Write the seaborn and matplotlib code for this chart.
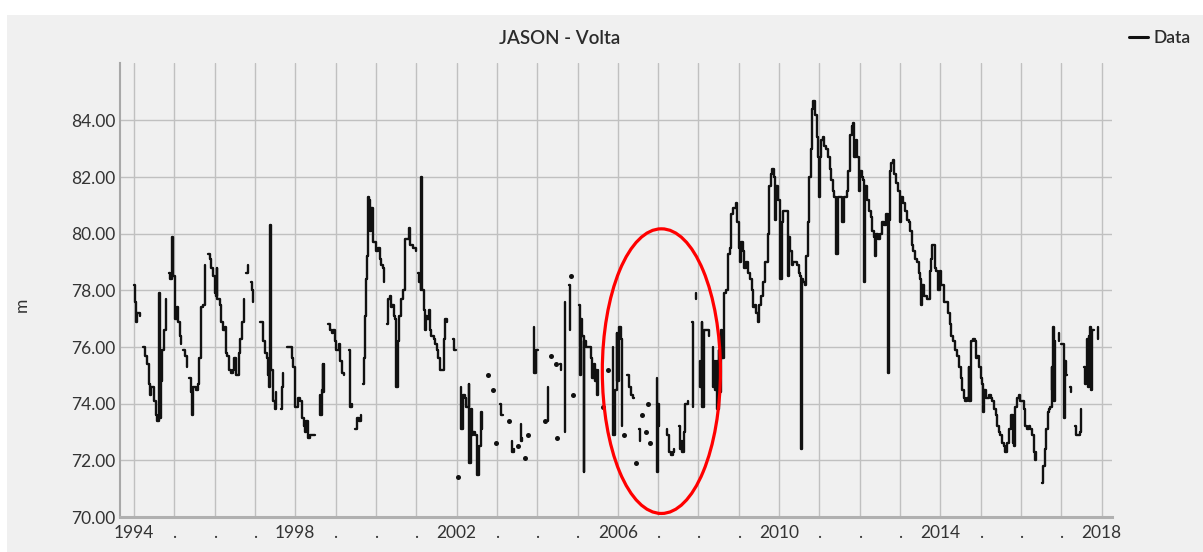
import numpy as np
import pandas as pd
import matplotlib
matplotlib.use("Agg")
import matplotlib.pyplot as plt
import seaborn as sns
from matplotlib.patches import Ellipse, Rectangle
from matplotlib.lines import Line2D

N = np.nan

# ---- data (decimal year, water level in m); NaN marks a gap ----
dates = [
    1994.00, 1994.02, 1994.05, 1994.08, 1994.15, N,
    1994.23, 1994.27, 1994.32, 1994.37, 1994.40, 1994.42, 1994.49, 1994.55, 1994.58, 1994.62, 1994.625, 1994.635, 1994.67, 1994.70, 1994.74, 1994.79, N,
    1994.88, 1994.89, 1994.94, 1994.95, 1994.96, 1995.02, 1995.06, 1995.10, 1995.14, 1995.17, N,
    1995.21, 1995.26, 1995.31, N,
    1995.37, 1995.41, 1995.45, 1995.47, 1995.55, 1995.59, 1995.61, 1995.65, 1995.67, 1995.71, 1995.76, N,
    1995.83, 1995.88, 1995.92, 1995.96, 1996.00, 1996.04, 1996.06, 1996.07, 1996.13, 1996.16, 1996.20, 1996.25,
    1996.27, 1996.31, 1996.35, 1996.40, 1996.45, 1996.49, 1996.52, 1996.56, 1996.60, 1996.64, 1996.68, 1996.72, N,
    1996.78, 1996.82, N,
    1996.90, 1996.93, 1996.96, N,
    1997.12, 1997.19, 1997.25, 1997.29, 1997.32, 1997.36, 1997.375, 1997.39, 1997.45, 1997.49, 1997.53, N,
    1997.64, 1997.67, 1997.70, N,
    1997.79, 1997.89, 1997.91, 1997.95, 1997.99, 1998.00, 1998.06, 1998.12, 1998.17, 1998.21, 1998.23, 1998.27, 1998.32, 1998.36, 1998.43, 1998.49, N,
    1998.61, 1998.62, 1998.66, 1998.68, 1998.70, 1998.72, N,
    1998.82, 1998.86, 1998.90, 1998.94, 1998.98, 1999.02, 1999.09, 1999.12, 1999.15, 1999.21, N,
    1999.34, 1999.35, 1999.40, N,
    1999.48, 1999.52, 1999.58, 1999.63, N,
    1999.69, 1999.71, 1999.73, 1999.76, 1999.78, 1999.80, 1999.83, 1999.85, 1999.88, 1999.92, 1999.94, 1999.98, 2000.01, 2000.05, 2000.09, 2000.13, 2000.18, 2000.21, N,
    2000.27, 2000.29, 2000.35, 2000.37, 2000.41, 2000.45, 2000.48, 2000.51, 2000.56, 2000.58, 2000.61, 2000.67, 2000.71, 2000.73, 2000.79, 2000.83, 2000.85, 2000.91, 2000.99, N,
    2001.05, 2001.07, 2001.11, 2001.13, 2001.15, 2001.19, 2001.21, 2001.24, 2001.27, 2001.31, 2001.33, 2001.37, 2001.43, 2001.47, 2001.51, 2001.55, 2001.60, 2001.64, 2001.68, 2001.72, 2001.76, N,
    2001.90, 2001.94, 2001.98, N,
    2002.04, N,
    2002.11, 2002.12, 2002.16, 2002.20, 2002.24, 2002.30, 2002.31, 2002.36, 2002.38, 2002.42, 2002.46, 2002.50, 2002.51, 2002.55, 2002.60, 2002.63, N,
    2002.79, N, 2002.90, N, 2002.98, N,
    2003.08, 2003.10, 2003.14, N,
    2003.31, N,
    2003.37, 2003.38, 2003.42, N,
    2003.52, N,
    2003.59, 2003.60, 2003.63, N,
    2003.70, N, 2003.76, N,
    2003.92, 2003.93, 2003.97, 2004.03, N,
    2004.19, N,
    2004.26, 2004.27, N,
    2004.34, N, 2004.46, N, 2004.50, N,
    2004.57, 2004.60, N,
    2004.69, 2004.70, N,
    2004.80, 2004.81, N,
    2004.85, N, 2004.90, N,
    2005.04, 2005.05, 2005.09, 2005.10, 2005.14, 2005.15, 2005.16, 2005.22, 2005.27, 2005.33, 2005.35, 2005.40, 2005.43, 2005.47, 2005.49, 2005.52, N,
    2005.64, N, 2005.76, N,
    2005.87, 2005.88, 2005.92, 2005.97, 2005.98, 2006.03, 2006.08, 2006.10, N,
    2006.15, N,
    2006.22, 2006.28, 2006.33, 2006.38, 2006.41, N,
    2006.45, N,
    2006.53, 2006.54, N,
    2006.61, N, 2006.69, N, 2006.74, N, 2006.80, N,
    2006.96, 2006.97, 2007.00, 2007.03, N,
    2007.21, 2007.22, 2007.27, 2007.28, 2007.32, 2007.36, 2007.39, N,
    2007.52, 2007.53, 2007.58, 2007.60, 2007.64, 2007.67, 2007.73, N,
    2007.85, 2007.86, N,
    2007.93, 2007.94, N,
    2008.03, 2008.04, 2008.08, 2008.09, 2008.13, 2008.17, 2008.25, N,
    2008.35, 2008.36, 2008.40, 2008.41, 2008.45, 2008.46, 2008.50, 2008.51, 2008.57, 2008.58, 2008.63, 2008.64, 2008.68, 2008.72, 2008.74, 2008.78, 2008.81, 2008.85, 2008.92, 2008.95, 2009.00,
    2009.02, 2009.06, 2009.10, 2009.12, 2009.17, 2009.22, 2009.28, 2009.32, 2009.35, 2009.39, 2009.43, 2009.47, 2009.51, 2009.55, 2009.61, 2009.66, 2009.72, 2009.75, 2009.76, 2009.79, 2009.83, 2009.87, 2009.89, 2009.93, 2009.97,
    2010.02, 2010.03, 2010.06, 2010.10, 2010.17, 2010.20, 2010.21, 2010.25, 2010.28, 2010.31, 2010.35, 2010.39, 2010.45, 2010.50, 2010.53, 2010.55, 2010.57, 2010.59, 2010.63, 2010.67, 2010.71, 2010.75, 2010.78, 2010.81, 2010.85, 2010.90, 2010.93, 2010.96, 2010.98,
    2011.02, 2011.04, 2011.08, 2011.12, 2011.16, 2011.20, 2011.25, 2011.29, 2011.33, 2011.37, 2011.41, 2011.45, 2011.53, 2011.57, 2011.60, 2011.64, 2011.68, 2011.72, 2011.76, 2011.80, 2011.84, 2011.86, 2011.90, 2011.94, 2011.97,
    2012.00, 2012.05, 2012.09, 2012.11, 2012.13, 2012.15, 2012.19, 2012.23, 2012.27, 2012.31, 2012.35, 2012.38, 2012.41, 2012.45, 2012.50, 2012.56, 2012.60, 2012.64, 2012.68, 2012.70, 2012.72, 2012.74, 2012.78, 2012.82, 2012.86, 2012.90, 2012.95,
    2013.00, 2013.02, 2013.07, 2013.12, 2013.17, 2013.21, 2013.25, 2013.29, 2013.33, 2013.37, 2013.41, 2013.46, 2013.50, 2013.52, 2013.55, 2013.60, 2013.65, 2013.68, 2013.73, 2013.77, 2013.80, 2013.83, 2013.86, 2013.90, 2013.93, 2013.98,
    2014.02, 2014.07, 2014.10, 2014.15, 2014.19, 2014.23, 2014.27, 2014.31, 2014.37, 2014.41, 2014.46, 2014.50, 2014.54, 2014.58, 2014.62, 2014.66, 2014.70, 2014.71, 2014.75, 2014.77, 2014.81, 2014.85, 2014.88, 2014.92, 2014.96,
    2015.00, 2015.04, 2015.05, 2015.08, 2015.12, 2015.16, 2015.20, 2015.25, 2015.29, 2015.33, 2015.37, 2015.41, 2015.45, 2015.49, 2015.53, 2015.57, 2015.61, 2015.65, 2015.70, 2015.74, 2015.78, 2015.79, 2015.82, 2015.83, 2015.86, 2015.90, 2015.94, 2015.98,
    2016.02, 2016.07, 2016.11, 2016.15, 2016.19, 2016.23, 2016.27, 2016.31, 2016.33, 2016.34, 2016.37, N,
    2016.51, 2016.55, 2016.59, 2016.63, 2016.66, 2016.70, 2016.73, 2016.76, 2016.78, 2016.80, 2016.81, 2016.83, N,
    2016.93, 2016.94, N,
    2017.00, 2017.06, 2017.07, 2017.09, 2017.11, 2017.15, N,
    2017.22, 2017.24, N,
    2017.35, 2017.37, 2017.41, 2017.45, 2017.49, N,
    2017.57, 2017.58, 2017.61, 2017.64, 2017.65, 2017.69, 2017.72, 2017.73, 2017.77, 2017.81, N,
    2017.90, 2017.92,
]

level_m = [
    78.2, 77.6, 76.9, 77.2, 77.1, N,
    76.0, 75.7, 75.4, 74.7, 74.3, 74.6, 74.1, 73.6, 73.4, 73.7, 77.9, 73.5, 74.8, 75.9, 76.6, 77.7, N,
    78.6, 78.4, 78.6, 79.9, 78.5, 77.0, 77.4, 76.9, 76.4, 76.1, N,
    75.9, 75.7, 75.3, N,
    74.9, 74.4, 73.6, 74.6, 74.5, 74.7, 75.6, 76.8, 77.4, 77.5, 78.9, N,
    79.3, 79.1, 78.8, 78.5, 77.9, 77.8, 78.8, 77.7, 77.5, 76.9, 76.6, 76.7,
    75.8, 75.7, 75.2, 75.1, 75.2, 75.6, 75.0, 75.0, 75.8, 76.3, 76.9, 77.7, N,
    78.6, 78.9, N,
    78.3, 78.0, 77.6, N,
    76.9, 76.2, 75.8, 75.6, 75.0, 74.6, 80.3, 75.2, 74.1, 73.8, 74.4, N,
    73.8, 74.6, 75.1, N,
    76.0, 76.0, 75.6, 75.3, 75.1, 73.9, 74.2, 74.1, 73.5, 73.2, 73.0, 73.4, 72.8, 72.9, 72.9, 72.9, N,
    74.3, 73.6, 74.5, 75.4, 74.4, 75.4, N,
    76.8, 76.6, 76.5, 76.6, 76.2, 75.9, 76.1, 75.5, 75.1, 75.0, N,
    75.9, 73.9, 74.0, N,
    73.1, 73.5, 73.4, 73.6, N,
    74.7, 75.6, 77.1, 78.4, 79.2, 81.3, 81.2, 80.1, 80.9, 80.6, 79.7, 79.7, 79.4, 79.5, 79.1, 78.9, 78.8, 78.3, N,
    76.8, 77.7, 77.8, 77.4, 77.5, 77.1, 77.0, 74.6, 76.2, 77.1, 77.7, 78.0, 79.2, 79.8, 79.8, 80.2, 79.6, 79.5, 79.4, N,
    78.6, 78.3, 78.0, 82.0, 78.0, 77.3, 76.6, 77.1, 77.0, 77.3, 76.6, 76.4, 76.3, 76.1, 75.9, 75.6, 75.2, 75.2, 76.3, 77.0, 76.9, N,
    76.3, 75.9, 75.9, N,
    71.4, N,
    74.6, 73.1, 74.3, 74.2, 73.9, 74.7, 71.9, 73.8, 72.9, 73.0, 72.9, 72.9, 71.5, 72.5, 73.7, 73.1, N,
    75.0, N, 74.5, N, 72.6, N,
    74.0, 73.6, 73.6, N,
    73.4, N,
    72.7, 72.3, 72.4, N,
    72.5, N,
    73.3, 72.7, 72.8, N,
    72.1, N, 72.9, N,
    76.7, 75.1, 75.9, 75.9, N,
    73.4, N,
    74.6, 73.4, N,
    75.7, N, 75.4, N, 72.8, N,
    75.4, 75.2, N,
    77.6, 73.0, N,
    78.2, 76.6, N,
    78.5, N, 74.3, N,
    77.5, 75.0, 77.0, 76.4, 76.4, 71.6, 76.2, 76.0, 76.0, 75.6, 74.9, 75.4, 74.8, 75.2, 74.3, 75.2, N,
    73.9, N, 75.2, N,
    76.0, 72.9, 74.5, 76.5, 74.8, 76.7, 76.3, 73.2, N,
    72.9, N,
    75.0, 74.6, 74.3, 74.2, 74.2, N,
    71.9, N,
    73.1, 72.7, N,
    73.6, N, 73.0, N, 74.0, N, 72.6, N,
    74.9, 71.6, 74.0, 73.2, N,
    73.1, 72.9, 72.8, 72.3, 72.2, 72.3, 72.4, N,
    73.2, 72.4, 72.7, 72.3, 73.0, 74.0, 74.1, N,
    76.9, 73.9, N,
    77.9, 77.7, N,
    75.5, 74.6, 76.9, 73.9, 76.6, 76.6, 76.4, N,
    76.0, 74.6, 75.5, 74.5, 75.5, 73.8, 75.9, 74.4, 76.6, 75.6, 77.4, 77.9, 78.0, 78.1, 79.3, 79.5, 80.7, 80.9, 81.1, 80.4, 79.5,
    79.0, 79.7, 79.4, 78.8, 79.0, 78.6, 78.4, 78.0, 77.4, 77.5, 77.2, 76.9, 77.5, 77.8, 78.3, 79.0, 80.0, 80.9, 81.7, 82.1, 82.3, 82.0, 80.5, 81.7, 81.2,
    80.5, 78.4, 80.4, 80.8, 80.8, 80.8, 78.5, 79.9, 79.4, 78.9, 79.0, 79.0, 78.9, 78.6, 78.5, 72.4, 78.4, 78.3, 78.2, 79.2, 80.4, 82.0, 83.0, 84.4, 84.7, 84.2, 83.4, 82.7, 81.3,
    82.7, 83.3, 83.4, 83.1, 83.0, 82.7, 82.3, 81.9, 81.5, 81.3, 79.3, 81.3, 81.3, 80.4, 81.3, 81.3, 81.5, 82.2, 83.5, 83.8, 83.9, 82.7, 83.3, 82.7, 81.5,
    82.2, 82.0, 81.9, 78.3, 81.7, 81.7, 81.2, 80.8, 80.6, 80.1, 79.9, 79.2, 80.0, 79.8, 80.0, 80.4, 80.3, 80.7, 80.7, 75.1, 80.5, 82.2, 82.5, 82.6, 82.1, 81.8, 81.5,
    80.4, 81.3, 81.1, 80.8, 80.5, 80.4, 80.1, 79.6, 79.4, 79.1, 79.0, 78.6, 78.4, 77.5, 78.2, 77.8, 77.8, 77.7, 78.7, 79.1, 79.6, 79.6, 78.8, 78.7, 78.0, 78.7,
    78.2, 78.2, 77.6, 77.6, 77.2, 76.8, 76.4, 76.2, 75.9, 75.7, 75.3, 74.9, 74.5, 74.2, 74.1, 74.2, 75.3, 74.1, 74.1, 76.2, 76.3, 76.2, 75.6, 75.7, 75.3,
    74.9, 74.7, 73.7, 74.5, 74.2, 74.2, 74.3, 74.2, 74.1, 73.8, 73.6, 73.2, 73.0, 72.9, 72.6, 72.5, 72.3, 72.6, 73.1, 73.6, 73.6, 72.6, 73.5, 72.5, 73.9, 74.2, 74.3, 74.1,
    74.1, 73.8, 73.2, 73.1, 73.2, 73.1, 72.9, 72.6, 72.3, 72.0, 72.3, N,
    71.2, 71.8, 72.4, 73.1, 73.7, 73.8, 73.9, 75.3, 74.5, 76.7, 74.1, 76.2, N,
    76.5, 76.2, N,
    76.1, 75.8, 73.5, 75.5, 75.0, 75.0, N,
    74.6, 74.4, N,
    73.2, 72.9, 72.9, 73.0, 73.8, N,
    75.3, 74.7, 75.3, 76.3, 74.6, 76.4, 76.7, 74.5, 76.6, 76.6, N,
    76.7, 76.3,
]

year_ticks = list(range(1994, 2019))
year_labels = [str(y) if (y - 1994) % 4 == 0 else "." for y in year_ticks]
level_ticks = [70, 72, 74, 76, 78, 80, 82, 84]
title_text = "JASON - Volta"
y_label = "m"
legend_label = "Data"

# highlighted region (red ellipse): centre and size in data units
ellipse_center = (2007.08, 75.15)
ellipse_size = (2.93, 10.05)

assert len(dates) == len(level_m)

df = pd.DataFrame({"date": dates, "level": level_m})
df["seg"] = df["level"].isna().cumsum()
df = df.dropna().reset_index(drop=True)
n_in_seg = df.groupby("seg")["level"].transform("size")
lines_df = df[n_in_seg > 1]
dots_df = df[n_in_seg == 1]

sns.set_theme(style="white")
plt.rcParams["font.family"] = ["Lato", "DejaVu Sans"]

W, H = 1203, 552
fig = plt.figure(figsize=(W / 100, H / 100), dpi=100, facecolor="white")
fig.patches.append(Rectangle((7 / W, 0), 1 - 7 / W, 1 - 15 / H, transform=fig.transFigure,
                             facecolor="#f0f0f0", edgecolor="none", zorder=-10))

ax = fig.add_axes([120 / W, 35 / H, 992 / W, 454 / H])
ax.set_facecolor("none")

ink = "#111111"
sns.lineplot(data=lines_df, x="date", y="level", units="seg", estimator=None,
             sort=False, color=ink, linewidth=1.7, drawstyle="steps-post", ax=ax)
sns.scatterplot(data=dots_df, x="date", y="level", color=ink, s=13,
                linewidth=0, ax=ax, zorder=3)

ax.add_patch(Ellipse(ellipse_center, ellipse_size[0], ellipse_size[1], fill=False,
                     edgecolor="#ff0000", linewidth=2.3, zorder=5))

ax.set_xlim(1993.653, 2018.256)
ax.set_ylim(70, 86.03)
ax.set_xticks(year_ticks)
ax.set_xticklabels(year_labels)
ax.set_yticks(level_ticks)
ax.set_yticklabels([f"{v:.2f}" for v in level_ticks])
ax.grid(True, color="#c0c0c0", linewidth=1.0)
ax.set_axisbelow(True)
for s in ("top", "right"):
    ax.spines[s].set_visible(False)
ax.spines["left"].set_color("#a8a8a8")
ax.spines["left"].set_linewidth(1.5)
ax.spines["bottom"].set_color("#b0b0b0")
ax.spines["bottom"].set_linewidth(2.2)
ax.tick_params(axis="both", length=0, labelsize=12.5, labelcolor="#333333")
ax.tick_params(axis="x", pad=5.5)
ax.tick_params(axis="y", pad=3.5)
ax.set_xlabel("")
ax.set_ylabel("")

fig.text(560 / W, 1 - 38 / H, title_text, ha="center", va="center",
         fontsize=13.5, fontweight="semibold", color="#2b2b2b")
fig.text(22 / W, 1 - 305 / H, y_label, ha="center", va="center", rotation=90,
         fontsize=12.5, color="#333333")

fig.legend(handles=[Line2D([0], [0], color=ink, linewidth=2.2)], labels=[legend_label],
           loc="center left", bbox_to_anchor=(1129 / W, 1 - 38 / H), frameon=False,
           handlelength=1.1, handletextpad=0.3, borderaxespad=0, borderpad=0,
           prop={"size": 12.5, "weight": "semibold"}, labelcolor="#2b2b2b")

fig.savefig("out.png", dpi=100, facecolor=fig.get_facecolor())
